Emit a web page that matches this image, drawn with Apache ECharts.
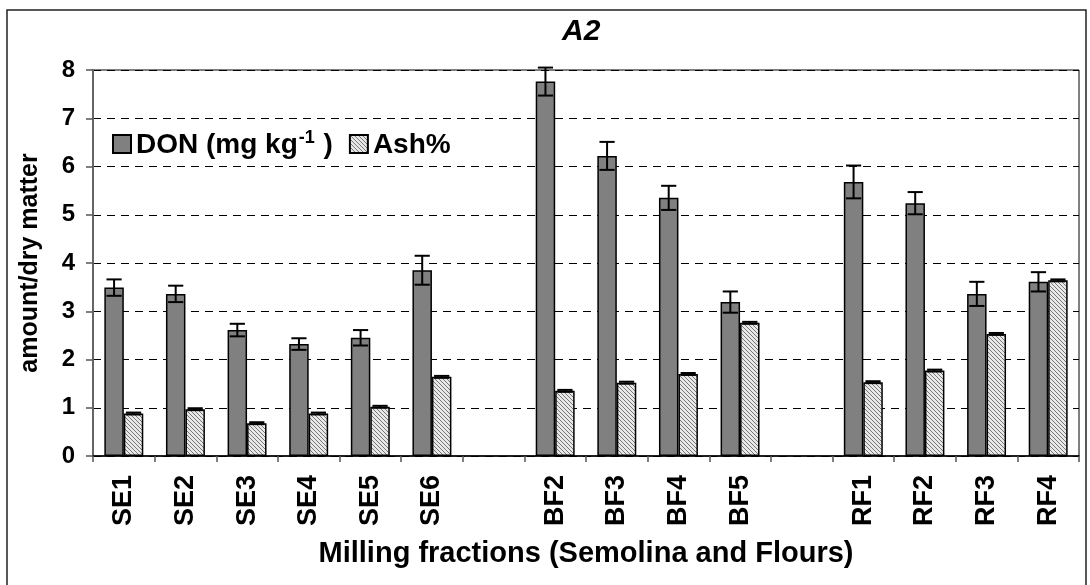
<!DOCTYPE html>
<html>
<head>
<meta charset="utf-8">
<script src="https://cdn.jsdelivr.net/npm/echarts@6/dist/echarts.min.js"></script>
<style>html,body{margin:0;padding:0;background:#fff}#c{width:1090px;height:585px}</style>
</head>
<body>
<div id="c"></div>
<script>
// ---- data ----
const categories = ['SE1','SE2','SE3','SE4','SE5','SE6',' ','BF2','BF3','BF4','BF5','  ','RF1','RF2','RF3','RF4'];
const donValues = [3.49, 3.36, 2.61, 2.32, 2.45, 3.85, '-', 7.76, 6.22, 5.35, 3.19, '-', 5.68, 5.24, 3.36, 3.61];
const donErrors = [0.17, 0.17, 0.13, 0.12, 0.16, 0.30, '-', 0.29, 0.29, 0.25, 0.22, '-', 0.34, 0.23, 0.25, 0.20];
const ashValues = [0.88, 0.97, 0.68, 0.88, 1.02, 1.64, '-', 1.35, 1.52, 1.70, 2.76, '-', 1.53, 1.77, 2.53, 3.64];
const ashErrors = [0.02, 0.02, 0.02, 0.02, 0.02, 0.02, '-', 0.02, 0.02, 0.02, 0.02, '-', 0.02, 0.02, 0.02, 0.02];
const yTicks = [0,1,2,3,4,5,6,7,8];

const FONT = "'Liberation Sans', Arial, sans-serif";
const BAR_RATIO = 0.316;

// hatch pattern
const pc = document.createElement('canvas');
pc.width = 4; pc.height = 4;
const pctx = pc.getContext('2d');
pctx.fillStyle = '#e8e8e8'; pctx.fillRect(0,0,4,4);
pctx.fillStyle = '#777777';
for (let i = 0; i < 4; i++) pctx.fillRect(i, i, 1, 1);

function errData(vals, errs) {
  const out = [];
  vals.forEach((v, i) => { if (v !== '-') out.push([i, v, errs[i]]); });
  return out;
}
function errRenderer(sign) {
  return function (params, api) {
    const idx = api.value(0), v = api.value(1), e = api.value(2);
    const bw = api.size([1, 0])[0] * BAR_RATIO;
    const c = api.coord([idx, v]);
    const x = c[0] + sign * bw / 2;
    const yt = api.coord([idx, v + e])[1];
    const yb = api.coord([idx, v - e])[1];
    const hw = bw * 0.39;
    const st = { stroke: '#000', lineWidth: 2 };
    return { type: 'group', children: [
      { type: 'line', shape: { x1: x, y1: yt, x2: x, y2: yb }, style: st },
      { type: 'line', shape: { x1: x - hw, y1: yt, x2: x + hw, y2: yt }, style: st },
      { type: 'line', shape: { x1: x - hw, y1: yb, x2: x + hw, y2: yb }, style: st }
    ]};
  };
}

const chart = echarts.init(document.getElementById('c'), null, { renderer: 'canvas' });
chart.setOption({
  animation: false,
  backgroundColor: '#fff',
  textStyle: { fontFamily: FONT },
  title: {
    text: 'A2', left: 562, top: 17, padding: 0,
    textStyle: { fontFamily: FONT, fontSize: 30, fontWeight: 'bold', fontStyle: 'italic', color: '#000' }
  },
  graphic: [{
    type: 'rect', shape: { x: 7, y: 10, width: 1079, height: 590 },
    style: { fill: 'none', stroke: '#222', lineWidth: 1.5 }, z: -1
  }],
  grid: { left: 93, right: 11, top: 70, bottom: 129, show: true, borderColor: '#000', borderWidth: 1 },
  legend: {
    data: ['DON', 'Ash%'], left: 107, top: 124, itemWidth: 18, itemHeight: 18, itemGap: 16,
    icon: 'rect',
    formatter: function (n) {
      return n === 'DON' ? '{t|DON (mg kg}{s|-1}{t| )}' : '{t|Ash%}';
    },
    textStyle: {
      color: '#000',
      rich: {
        t: { fontFamily: FONT, fontSize: 28, fontWeight: 'bold', color: '#000', lineHeight: 30, verticalAlign: 'bottom' },
        s: { fontFamily: FONT, fontSize: 18, fontWeight: 'bold', color: '#000', lineHeight: 18, verticalAlign: 'top', padding: [0, 1, 26, 1] }
      }
    }
  },
  xAxis: {
    type: 'category', data: categories,
    name: 'Milling fractions (Semolina and Flours)', nameLocation: 'middle', nameGap: 83,
    nameTextStyle: { fontFamily: FONT, fontSize: 29, fontWeight: 'bold', color: '#000' },
    axisLine: { lineStyle: { color: '#000', width: 1.5 } },
    axisTick: { show: true, length: 6, lineStyle: { color: '#555', width: 1.5 } },
    axisLabel: { rotate: 90, margin: 19, fontFamily: FONT, fontSize: 27, fontWeight: 'bold', color: '#000', interval: 0 }
  },
  yAxis: {
    type: 'value', min: 0, max: 8, interval: 1,
    name: 'amount/dry matter', nameLocation: 'middle', nameGap: 50,
    nameTextStyle: { fontFamily: FONT, fontSize: 25, fontWeight: 'bold', color: '#000' },
    axisLine: { show: true, lineStyle: { color: '#666', width: 2 } },
    axisTick: { show: true, length: 7, lineStyle: { color: '#555', width: 1.5 } },
    axisLabel: { margin: 18, fontFamily: FONT, fontSize: 24, fontWeight: 'bold', color: '#000',
      formatter: function (v) { return yTicks.indexOf(v) >= 0 ? String(v) : ''; } },
    splitLine: { show: true, lineStyle: { color: '#000', width: 1, type: [8, 6] } }
  },
  series: [
    { name: 'DON', type: 'bar', data: donValues, barWidth: (BAR_RATIO * 100) + '%', barGap: '0%',
      itemStyle: { color: '#808080', borderColor: '#000', borderWidth: 1.5 } },
    { name: 'Ash%', type: 'bar', data: ashValues, barWidth: (BAR_RATIO * 100) + '%', barGap: '0%',
      itemStyle: { color: { image: pc, repeat: 'repeat' }, borderColor: '#000', borderWidth: 1.5 } },
    { name: 'DON err', type: 'custom', data: errData(donValues, donErrors), renderItem: errRenderer(-1), z: 5,
      encode: { x: 0, y: [1, 2] } },
    { name: 'Ash err', type: 'custom', data: errData(ashValues, ashErrors), renderItem: errRenderer(1), z: 5,
      encode: { x: 0, y: [1, 2] } }
  ]
});
</script>
</body>
</html>
